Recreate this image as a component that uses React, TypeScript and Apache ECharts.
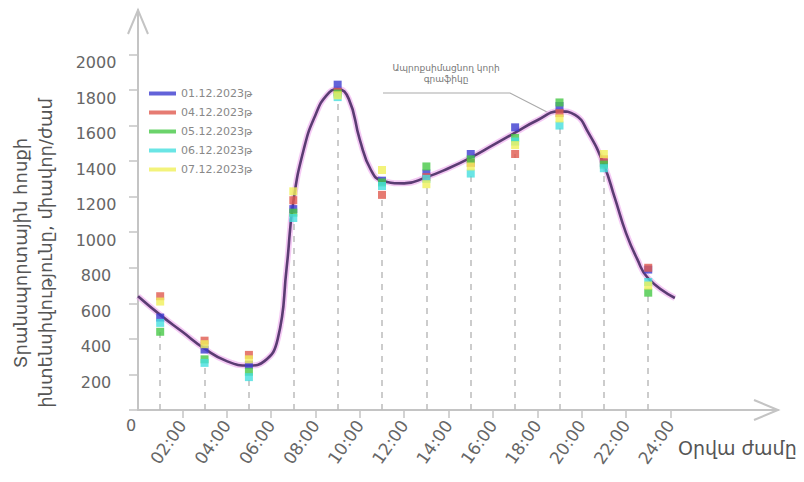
import React, { useEffect, useRef } from "react";
import * as echarts from "echarts";

// measurement hours (points) and tick hours (labels)
const hours = [1, 3, 5, 7, 9, 11, 13, 15, 17, 19, 21, 23];
const tickHours = [2, 4, 6, 8, 10, 12, 14, 16, 18, 20, 22, 24];
const tickLabels = ["02:00", "04:00", "06:00", "08:00", "10:00", "12:00", "14:00", "16:00", "18:00", "20:00", "22:00", "24:00"];
const yTickValues = [0, 200, 400, 600, 800, 1000, 1200, 1400, 1600, 1800, 2000];
const yLabelValues = [200, 400, 600, 800, 1000, 1200, 1400, 1600, 1800, 2000];

const seriesNames = ["01.12.2023թ", "04.12.2023թ", "05.12.2023թ", "06.12.2023թ", "07.12.2023թ"];
const seriesColors = ["#3c3ccf", "#e05a4f", "#46c846", "#45dede", "#f0f05a"];

const day1 = [520, 340, 255, 1130, 1830, 1290, 1330, 1440, 1590, 1710, 1390, 790];
const day2 = [640, 390, 310, 1180, 1790, 1210, 1310, 1390, 1440, 1670, 1410, 800];
const day3 = [440, 285, 215, 1110, 1780, 1280, 1370, 1410, 1530, 1730, 1380, 660];
const day4 = [490, 265, 185, 1080, 1760, 1260, 1300, 1330, 1510, 1600, 1360, 720];
const day5 = [610, 370, 285, 1230, 1770, 1350, 1270, 1370, 1490, 1640, 1440, 700];
const allDays = [day1, day2, day3, day4, day5];

// approximating curve
const curveHours = [0, 1, 2, 3, 4, 5, 5.7, 6.3, 6.7, 7, 7.5, 8, 8.5, 9, 9.5, 10, 10.5, 11, 12, 13, 14, 15, 16, 17, 18, 19, 19.7, 20.3, 21, 21.5, 22, 22.5, 23, 24.2];
const curveValues = [640, 535, 440, 345, 275, 250, 275, 400, 800, 1170, 1480, 1660, 1770, 1805, 1750, 1520, 1350, 1290, 1275, 1310, 1360, 1420, 1490, 1560, 1630, 1680, 1660, 1560, 1380, 1190, 995, 850, 740, 630];

const yTitle1 = "Տրանսպորտային հոսքի";
const yTitle2 = "ինտենսիվությունը, միավոր/ժամ";
const xTitle = "Օրվա ժամը";
const noteLine1 = "Ապրոքսիմացնող կորի";
const noteLine2 = "գրաֆիկը";

const FONT = "DejaVu Sans";

export default function App() {
  const ref = useRef<HTMLDivElement>(null);
  useEffect(() => {
    if (!ref.current) return;
    const chart = echarts.init(ref.current, undefined, { renderer: "svg" });
    const axisColor = "#c4c4c4";
    const mins = hours.map((_, i) => Math.min(...allDays.map((d) => d[i])));
    const curveData = curveHours.map((h, i) => [h, curveValues[i]]);
    const option: any = {
      animation: false,
      backgroundColor: "#ffffff",
      grid: { left: 138, top: 10, width: 640, height: 400 },
      legend: {
        data: seriesNames,
        orient: "vertical",
        left: 144,
        top: 83,
        icon: "rect",
        itemWidth: 27,
        itemHeight: 4,
        itemGap: 8,
        textStyle: { fontSize: 11, color: "#888", fontFamily: FONT },
      },
      xAxis: {
        type: "value",
        min: 0,
        max: 28.85,
        axisLine: { show: true, lineStyle: { color: axisColor, width: 2 } },
        axisTick: { show: true, customValues: tickHours, length: 8, lineStyle: { color: axisColor, width: 1.5 } },
        axisLabel: {
          customValues: tickHours,
          formatter: (v: number) => tickLabels[tickHours.indexOf(v)] || "",
          rotate: 55,
          margin: 12,
          fontSize: 17,
          color: "#666",
          fontFamily: FONT,
        },
        splitLine: { show: false },
      },
      yAxis: {
        type: "value",
        min: 0,
        max: 2250,
        axisLine: { show: true, lineStyle: { color: axisColor, width: 2 } },
        axisTick: { show: true, customValues: yTickValues, length: 9, lineStyle: { color: axisColor, width: 1.5 } },
        axisLabel: {
          customValues: yLabelValues,
          formatter: (v: number) => String(v),
          align: "center",
          verticalAlign: "top",
          margin: 42,
          fontSize: 16,
          color: "#666",
          fontFamily: FONT,
        },
        splitLine: { show: false },
      },
      series: [
        {
          name: "drop",
          type: "line",
          data: [],
          silent: true,
          markLine: {
            silent: true,
            symbol: ["none", "none"],
            label: { show: false },
            lineStyle: { color: "#bcbcbc", type: [6, 6], width: 1.5 },
            data: hours.map((h, i) => [{ coord: [h, 0] }, { coord: [h, mins[i]] }]),
          },
          z: 1,
        },
        {
          name: "glow",
          type: "line",
          data: curveData,
          smooth: 0.5,
          showSymbol: false,
          silent: true,
          lineStyle: { width: 6, color: "rgba(236,165,236,0.6)" },
          z: 3,
        },
        {
          name: "curve",
          type: "line",
          data: curveData,
          smooth: 0.5,
          showSymbol: false,
          silent: true,
          lineStyle: { width: 2.6, color: "#5b3c73" },
          z: 4,
        },
        ...allDays.map((d, k) => ({
          name: seriesNames[k],
          type: "scatter",
          data: hours.map((h, i) => [h, d[i]]),
          symbol: "rect",
          symbolSize: 8,
          itemStyle: { color: seriesColors[k] },
          z: 5,
        })),
      ],
    };
    chart.setOption(option);

    const origin = chart.convertToPixel({ gridIndex: 0 }, [0, 0]) as number[];
    const xEnd = chart.convertToPixel({ gridIndex: 0 }, [28.85, 0]) as number[];
    const yEnd = chart.convertToPixel({ gridIndex: 0 }, [0, 2250]) as number[];
    const peak = chart.convertToPixel({ gridIndex: 0 }, [19, 1680]) as number[];
    const arrowStyle = { stroke: axisColor, lineWidth: 2, fill: "none" };
    chart.setOption({
      graphic: [
        {
          type: "polyline",
          shape: { points: [[xEnd[0] - 24, xEnd[1] - 10], [xEnd[0], xEnd[1]], [xEnd[0] - 24, xEnd[1] + 10]] },
          style: arrowStyle,
          silent: true,
        },
        {
          type: "polyline",
          shape: { points: [[yEnd[0] - 10, yEnd[1] + 24], [yEnd[0], yEnd[1]], [yEnd[0] + 10, yEnd[1] + 24]] },
          style: arrowStyle,
          silent: true,
        },
        {
          type: "text",
          x: origin[0] - 12,
          y: origin[1] + 7,
          style: { text: "0", fontSize: 16, fill: "#666", fontFamily: FONT },
        },
        {
          type: "text",
          x: 678,
          y: 438,
          style: { text: xTitle, fontSize: 19, fill: "#555", fontFamily: FONT },
        },
        {
          type: "text",
          x: 33,
          y: 253,
          rotation: Math.PI / 2,
          style: {
            text: yTitle1 + "\n" + yTitle2,
            fontSize: 18,
            lineHeight: 25,
            fill: "#555",
            fontFamily: FONT,
            align: "center",
            verticalAlign: "middle",
          },
        },
        {
          type: "text",
          x: 446,
          y: 73,
          style: { text: noteLine1 + "\n" + noteLine2, fontSize: 9, lineHeight: 11, fill: "#777", fontFamily: FONT, align: "center", verticalAlign: "middle" },
        },
        {
          type: "polyline",
          shape: { points: [[383, 93], [510, 93], [peak[0] - 12, peak[1] + 1]] },
          style: { stroke: "#aaa", lineWidth: 1.2, fill: "none" },
          silent: true,
        },
      ],
    });
    return () => chart.dispose();
  }, []);
  return <div ref={ref} style={{ position: "fixed", left: 0, top: 0, width: 804, height: 482 }} />;
}
